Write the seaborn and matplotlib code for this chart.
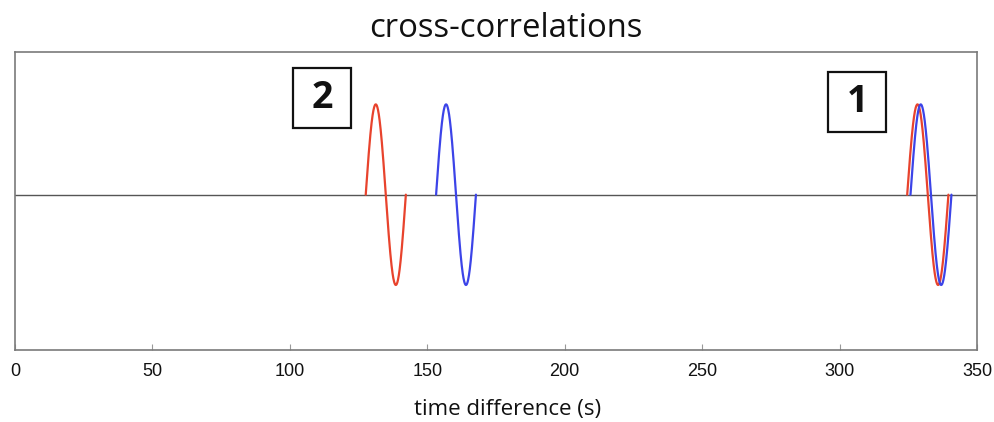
import numpy as np
import pandas as pd
import matplotlib
matplotlib.use("Agg")
import matplotlib.pyplot as plt
from matplotlib.patches import Rectangle
import seaborn as sns

# Wavelet arrivals: onset time (s), period (s), peak amplitude, trace colour
events = ["2", "2", "1", "1"]
traces = ["red", "blue", "red", "blue"]
onsets = [127.6, 153.2, 324.6, 325.8]
periods = [14.6, 14.5, 15.0, 14.9]
amplitudes = [1.0, 1.0, 1.0, 1.0]

x_ticks = [0, 50, 100, 150, 200, 250, 300, 350]
title_text = "cross-correlations"
xlabel_text = "time difference (s)"
box_labels = ["2", "1"]

palette = {"red": "#e8432d", "blue": "#3c44e8"}

# one full sine cycle per arrival
rows = []
for ev, tr, t0, per, amp in zip(events, traces, onsets, periods, amplitudes):
    tt = np.linspace(t0, t0 + per, 200)
    yy = amp * np.sin(2 * np.pi * (tt - t0) / per)
    for a, b in zip(tt, yy):
        rows.append({"event": ev + tr, "trace": tr, "t": a, "cc": b})
df = pd.DataFrame(rows)

sns.set_style("white")
plt.rcParams["font.family"] = ["Open Sans", "DejaVu Sans"]
plt.rcParams["text.color"] = "black"
plt.rcParams["axes.labelcolor"] = "black"
plt.rcParams["xtick.color"] = "black"

fig = plt.figure(figsize=(9.94, 4.22), dpi=100)
ax = fig.add_axes([0.0151, 0.1706, 0.9678, 0.7062])

ax.axhline(0, color="#555555", lw=1.0, zorder=1)
sns.lineplot(data=df, x="t", y="cc", hue="trace", units="event", estimator=None,
             palette=palette, lw=1.6, legend=False, ax=ax, zorder=3, sort=False)

ax.set_xlim(0, 350)
ax.set_ylim(-1.72, 1.58)
ax.set_xticks(x_ticks)
ax.set_xticklabels([str(v) for v in x_ticks], family="Liberation Sans", fontsize=13,
                   color="#111111")
ax.set_yticks([])
ax.tick_params(axis="x", direction="in", length=4, width=0.8, color="#999999", pad=9,
               bottom=True, top=False)
for s in ax.spines.values():
    s.set_color("#7a7a7a")
    s.set_linewidth(1.2)
    s.set_visible(True)

ax.set_xlabel(xlabel_text, fontsize=16, labelpad=14, color="#111111")
ax.xaxis.label.set_x(0.5125)
ax.set_ylabel("")
ax.set_title(title_text, fontsize=23.7, pad=11, color="#111111", x=0.5104)

# numbered boxes labelling the two arrival groups
box_pos = [(0.2893, 0.744), (0.8454, 0.7305)]
bw, bh = 0.0603, 0.2013
for lab, (bx, by) in zip(box_labels, box_pos):
    ax.add_patch(Rectangle((bx, by), bw, bh, transform=ax.transAxes, fill=True,
                           facecolor="white", edgecolor="#111111", lw=1.6, zorder=4))
    ax.text(bx + bw / 2, by + bh / 2, lab, transform=ax.transAxes, ha="center",
            va="center", fontsize=27, fontweight="bold", color="#111111", zorder=5)

fig.savefig("out.png", dpi=100)
